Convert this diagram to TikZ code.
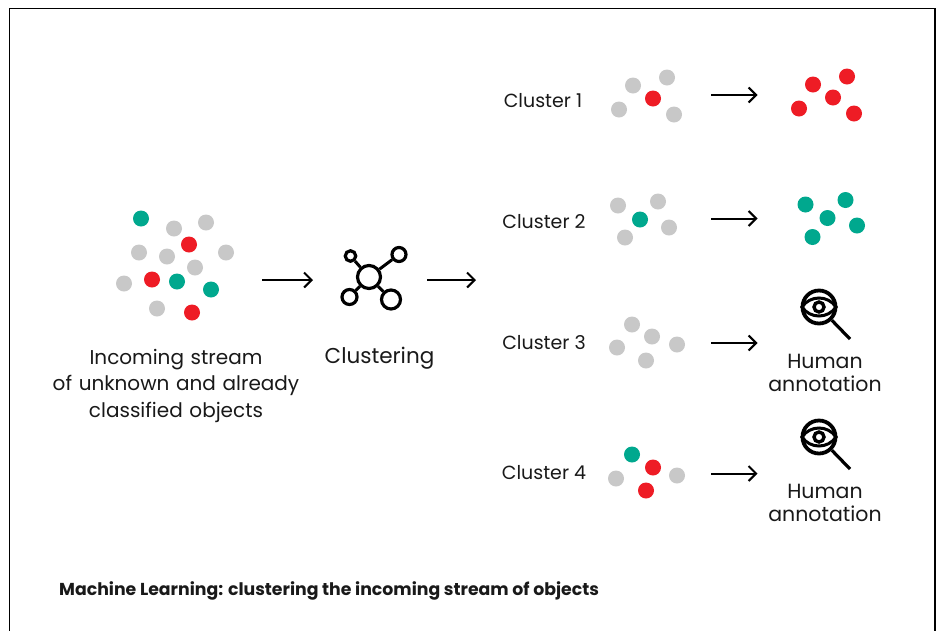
\documentclass[tikz,border=0pt]{standalone}
\usepackage{fontspec}
\setmainfont{Poppins}
\usetikzlibrary{arrows.meta}
\definecolor{dgrey}{HTML}{C8C8C8}
\definecolor{dred}{HTML}{EE1C25}
\definecolor{dteal}{HTML}{00A88E}
\tikzset{
  x=1pt,y=-1pt,
  dotbase/.style={circle,inner sep=0pt,minimum size=16pt},
  g/.style={dotbase,fill=dgrey},
  r/.style={dotbase,fill=dred},
  t/.style={dotbase,fill=dteal},
  flow/.style={line width=2pt,-{Straight Barb[length=7.5pt,width=15pt,line width=2pt]}},
  ring/.style={circle,draw=black,line width=3.2pt,inner sep=0pt,fill=white},
  link/.style={line width=3pt},
  big/.style={font=\fontsize{20}{26.5}\selectfont,align=center,text=black!90},
  clab/.style={font=\fontsize{19}{22}\selectfont,text=black!90},
  humanlab/.style={font=\fontsize{20.5}{22.5}\selectfont,align=center,text=black!90},
}
\newcommand{\magglass}[3]{%
  \begin{scope}[shift={(#1,#2)}]
    \node[circle,draw=black,line width=3.8pt,minimum size=33pt,inner sep=0pt] (#3ring) at (0,0) {};
    \coordinate (#3h) at (31,32);
    \draw[line width=3.2pt] (#3ring) -- (#3h);
    \draw[line width=3pt] (-17,0) .. controls (-9,-12) and (9,-12) .. (17,0) .. controls (9,12) and (-9,12) .. (-17,0) -- cycle;
    \node[circle,draw=black,line width=3.4pt,minimum size=10pt,inner sep=0pt] (#3eye) at (0,0) {};
  \end{scope}}
\begin{document}
\begin{tikzpicture}
\useasboundingbox (0,0) rectangle (942,630);
\draw[line width=1.3pt,black] (9.5,640) -- (9.5,8.5) -- (935,8.5) -- (935,640);

\begin{scope}[yshift=-0.5pt]
% main cloud
\node[t] (m1) at (141,218) {};
\node[g] (m2) at (174,228) {};
\node[g] (m3) at (206,222) {};
\node[g] (m4) at (139,252) {};
\node[g] (m5) at (167,256) {};
\node[r] (m6) at (189,244) {};
\node[g] (m7) at (226,252) {};
\node[g] (m8) at (195,267) {};
\node[g] (m9) at (124,283) {};
\node[r] (m10) at (152,279) {};
\node[t] (m11) at (177,281) {};
\node[t] (m12) at (211,289) {};
\node[g] (m13) at (157,308) {};
\node[r] (m14) at (192,312) {};
% cluster 1 dots
\node[g] (c1a) at (633,85) {};
\node[g] (c1b) at (667,77) {};
\node[g] (c1c) at (619,109) {};
\node[g] (c1d) at (674,114) {};
\node[r] (c1e) at (653,98) {};
\node[r] (c1f) at (813,84) {};
\node[r] (c1g) at (847,76) {};
\node[r] (c1h) at (799,108) {};
\node[r] (c1i) at (833,97) {};
\node[r] (c1j) at (854,113) {};
% cluster 2 dots
\node[g] (c2a) at (618,205) {};
\node[g] (c2b) at (658,201) {};
\node[g] (c2c) at (625,237) {};
\node[g] (c2d) at (669,227) {};
\node[t] (c2e) at (640,219) {};
\node[t] (c2f) at (805.5,204) {};
\node[t] (c2g) at (845.5,199.5) {};
\node[t] (c2h) at (827.5,217.5) {};
\node[t] (c2i) at (812.5,236.5) {};
\node[t] (c2j) at (857,225) {};
% cluster 3 dots
\node[g] (c3a) at (632,324) {};
\node[g] (c3b) at (652,336) {};
\node[g] (c3c) at (617,347) {};
\node[g] (c3d) at (677,344) {};
\node[g] (c3e) at (646,360) {};
% cluster 4 dots
\node[t] (c4a) at (632,454) {};
\node[r] (c4b) at (653,467) {};
\node[g] (c4c) at (616,478) {};
\node[g] (c4d) at (677,475) {};
\node[r] (c4e) at (646,490) {};
\end{scope}

\node[big,text width=280pt] (inlab) at (176,385.5) {Incoming stream\\of unknown and already\\classified objects};
\node[big,font=\fontsize{21.5}{26}\selectfont] (clulab) at (379.5,358.5) {Clustering};

% clustering icon
\node[ring,minimum size=23pt] (hub) at (369,277) {};
\node[ring,minimum size=10.5pt] (s1) at (350.5,256) {};
\node[ring,minimum size=14pt] (s2) at (399,254.5) {};
\node[ring,minimum size=15pt] (s3) at (349.5,297) {};
\node[ring,minimum size=19pt] (s4) at (391,299.5) {};
\draw[link] (hub) -- (s1);
\draw[link] (hub) -- (s2);
\draw[link] (hub) -- (s3);
\draw[link] (hub) -- (s4);

% main arrows
\coordinate (a1s) at (262,280); \coordinate (a1e) at (313,280);
\coordinate (a2s) at (427,280); \coordinate (a2e) at (476,280);
\draw[flow] (a1s) -- (a1e);
\draw[flow] (a2s) -- (a2e);

\node[clab] (c1) at (543,100.5) {Cluster 1};
\coordinate (b1s) at (711,95); \coordinate (b1e) at (757.5,95);
\draw[flow] (b1s) -- (b1e);

\node[clab] (c2) at (544,221.5) {Cluster 2};
\coordinate (b2s) at (711,218.5); \coordinate (b2e) at (757.5,218.5);
\draw[flow] (b2s) -- (b2e);

\node[clab] (c3) at (544,342.5) {Cluster 3};
\coordinate (b3s) at (711,343); \coordinate (b3e) at (757.5,343);
\draw[flow] (b3s) -- (b3e);
\magglass{819}{307}{mg1}
\node[humanlab] (h1) at (825,373) {Human\\annotation};

\node[clab] (c4) at (544,472.5) {Cluster 4};
\coordinate (b4s) at (711,473.5); \coordinate (b4e) at (757.5,473.5);
\draw[flow] (b4s) -- (b4e);
\magglass{819}{437}{mg2}
\node[humanlab] (h2) at (825,503) {Human\\annotation};

\node[anchor=west,inner sep=0pt,font=\bfseries\fontsize{17.3}{21}\selectfont,text=black!90] (title) at (59,590.5) {Machine Learning: clustering the incoming stream of objects};
\end{tikzpicture}
\end{document}
